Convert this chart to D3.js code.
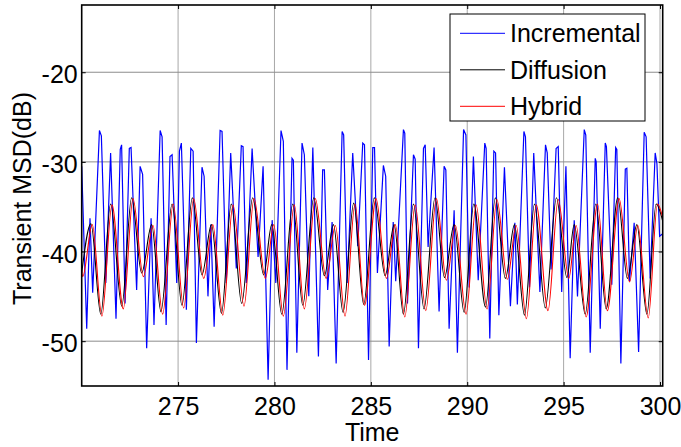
<html>
<head>
<meta charset="utf-8">
<style>
  body { margin: 0; background: #fff; }
  svg { display: block; font-family: "Liberation Sans", Arial, sans-serif; }
</style>
</head>
<body>
<svg id="chart" width="681" height="447"></svg>
<script src="https://d3js.org/d3.v7.min.js"></script>
<script>
// series names
let seriesNames = ["Incremental", "Diffusion", "Hybrid"]
let seriesColors = ["#0000ff", "#000000", "#ff0000"]

// Incremental (blue) : time / MSD
let incTime = [270.0, 270.26, 270.43, 270.57, 270.92, 271.02, 271.25, 271.50, 271.78, 272.0, 272.07, 272.25, 272.47, 272.56, 272.85,
  273.03, 273.16, 273.37, 273.6, 273.75, 274.07, 274.17, 274.38, 274.58, 274.69, 274.93, 275.07, 275.17, 275.43, 275.66, 275.78, 275.95,
  276.24, 276.35, 276.55, 276.70, 276.87, 277.18, 277.28, 277.5, 277.73, 278.02, 278.28, 278.37, 278.54, 278.84, 279.15, 279.41, 279.67,
  279.88, 280.07, 280.34, 280.46, 280.65, 280.91, 280.98, 281.16, 281.43, 281.55, 281.78, 281.99, 282.28, 282.50, 282.59, 282.76, 282.99,
  283.2, 283.51, 283.59, 283.77, 284.06, 284.32, 284.58, 284.67, 284.88, 285.1, 285.19, 285.34, 285.65, 285.77, 285.95, 286.16, 286.29,
  286.69, 286.76, 286.9, 287.21, 287.3, 287.47, 287.73, 287.82, 287.97, 288.28, 288.54, 288.8, 288.89, 289.06, 289.32, 289.49, 289.81,
  289.93, 290.1, 290.32, 290.57, 290.91, 290.98, 291.17, 291.38, 291.47, 291.64, 291.93, 292.24, 292.47, 292.6, 292.94, 293.02, 293.23,
  293.45, 293.77, 294.06, 294.15, 294.35, 294.61, 294.72, 294.9, 295.12, 295.34, 295.55, 295.72, 296.07, 296.15, 296.38, 296.64, 296.69,
  296.9, 297.16, 297.22, 297.5, 297.7, 297.76, 297.97, 298.2, 298.28, 298.42, 298.66, 298.89, 299.18, 299.28, 299.49, 299.75, 299.84,
  299.98, 300.14]
let incMSD = [-30.5, -48.6, -36.3, -44.6, -26.5, -27.1, -43.5, -29.0, -47.5, -28.6, -28.1, -45.8, -28.5, -28.4, -44.3,
  -30.5, -31.4, -50.8, -36.3, -48.2, -26.5, -27.2, -48.2, -29.4, -29.2, -43.5, -28.8, -27.9, -46.5, -28.5, -28.8, -50.2,
  -30.6, -31.6, -45.0, -37.0, -48.4, -26.5, -26.6, -43.5, -29.0, -41.9, -28.2, -28.3, -43.5, -28.5, -40.6, -30.5, -54.3,
  -36.5, -43.5, -26.5, -27.7, -53.2, -29.6, -29.8, -51.3, -27.9, -29.2, -45.0, -28.4, -51.7, -30.9, -30.9, -44.3, -36.7,
  -52.5, -26.6, -27.0, -43.5, -29.0, -39.4, -27.9, -28.1, -52.1, -28.4, -28.4, -42.4, -30.4, -31.6, -50.6, -36.7, -43.3,
  -26.4, -26.8, -45.8, -29.2, -29.7, -50.8, -28.5, -28.1, -39.5, -28.4, -46.7, -30.5, -30.9, -48.6, -35.4, -51.3, -26.4,
  -27.0, -44.0, -29.4, -43.2, -27.9, -28.5, -49.7, -28.8, -29.0, -47.1, -30.6, -46.1, -36.8, -45.9, -26.6, -27.2, -44.0,
  -29.0, -44.5, -28.1, -29.0, -42.0, -28.5, -28.3, -44.5, -30.5, -51.9, -36.5, -45.0, -26.4, -27.0, -51.3, -29.6, -30.0,
  -48.6, -27.9, -28.3, -43.7, -28.4, -28.6, -52.5, -30.8, -30.7, -43.3, -36.8, -51.2, -26.7, -27.2, -43.0, -29.0, -30.2,
  -38.3, -38.0]

// Diffusion (black) : peaks and troughs
let difTime = [270.0, 270.48, 270.99, 271.50, 272.08, 272.59, 273.11, 273.63, 274.11, 274.69, 275.20, 275.74, 276.24, 276.73, 277.25,
  277.76, 278.30, 278.87, 279.44, 279.86, 280.38, 280.95, 281.47, 282.04, 282.59, 283.06, 283.56, 284.11, 284.63, 285.18, 285.74,
  286.21, 286.69, 287.21, 287.76, 288.33, 288.82, 289.32, 289.84, 290.34, 290.95, 291.46, 291.98, 292.45, 292.97, 293.49, 294.05,
  294.63, 295.17, 295.55, 296.12, 296.67, 297.21, 297.81, 298.31, 298.80, 299.32, 299.80, 300.14]
let difMSD = [-42.4, -36.9, -47.0, -34.7, -46.1, -34.0, -42.4, -37.0, -46.7, -34.7, -46.0, -34.0, -42.6, -37.0, -46.9,
  -34.7, -45.8, -34.0, -42.6, -37.0, -47.0, -34.7, -46.0, -34.0, -42.7, -37.0, -46.8, -34.6, -45.9, -34.0, -42.7,
  -37.0, -47.0, -34.7, -46.4, -34.0, -42.9, -37.0, -46.8, -34.7, -46.2, -34.0, -43.0, -37.0, -47.1, -34.7, -46.3,
  -34.0, -42.9, -37.0, -47.0, -34.7, -46.4, -34.0, -43.0, -37.0, -47.0, -34.7, -36.6]

// Hybrid (red) : peaks and troughs
let hybTime = [270.0, 270.05, 270.55, 271.05, 271.57, 272.16, 272.66, 273.20, 273.70, 274.20, 274.75, 275.29, 275.81, 276.33, 276.80,
  277.32, 277.85, 278.42, 278.94, 279.53, 279.96, 280.46, 281.03, 281.55, 282.12, 282.68, 283.16, 283.66, 284.18, 284.67, 285.27,
  285.81, 286.27, 286.76, 287.30, 287.85, 288.40, 288.92, 289.39, 289.94, 290.46, 291.03, 291.54, 292.08, 292.54, 293.07, 293.58,
  294.19, 294.72, 295.27, 295.65, 296.17, 296.76, 297.27, 297.88, 298.42, 298.85, 299.39, 299.87, 300.14]
let hybMSD = [-42.0, -42.8, -37.0, -47.2, -34.8, -46.4, -34.1, -42.8, -37.1, -47.0, -34.7, -46.3, -34.1, -43.0, -37.0,
  -47.1, -34.8, -46.1, -34.1, -43.0, -37.0, -47.2, -34.8, -46.4, -34.1, -43.0, -37.1, -47.2, -34.7, -46.0, -34.1,
  -43.0, -37.0, -47.3, -34.8, -46.6, -34.1, -43.2, -37.1, -47.0, -34.8, -46.4, -34.2, -43.1, -37.1, -47.5, -34.8,
  -46.6, -34.2, -43.0, -37.1, -47.3, -34.7, -46.6, -34.1, -43.4, -37.1, -47.4, -34.7, -36.2]

// axes
let xTicks = [275, 280, 285, 290, 295, 300]
let yTicks = [-50, -40, -30, -20]
let yTickLabels = ["-50", "-40", "-30", "-20"]
let xDomain = [270, 300.14]
let yDomain = [-55, -12.5]

let svg = d3.select("#chart")
let pLeft = 81.7, pRight = 662.7, pTop = 5, pBottom = 386

let x = d3.scaleLinear().domain(xDomain).range([pLeft, pRight])
let y = d3.scaleLinear().domain(yDomain).range([pBottom, pTop])

// grid
let grid = svg.append("g")
grid.selectAll("line.gx").data(xTicks).enter().append("line")
  .attr("x1", d => x(d)).attr("x2", d => x(d))
  .attr("y1", pTop).attr("y2", pBottom)
  .attr("stroke", "#a8a8a8").attr("stroke-width", 1)
grid.selectAll("line.gy").data(yTicks).enter().append("line")
  .attr("x1", pLeft).attr("x2", pRight)
  .attr("y1", d => y(d)).attr("y2", d => y(d))
  .attr("stroke", "#8c8c8c").attr("stroke-width", 1)

// lines
svg.append("clipPath").attr("id", "clip").append("rect")
  .attr("x", pLeft).attr("y", pTop).attr("width", pRight - pLeft).attr("height", pBottom - pTop)

let plot = svg.append("g").attr("clip-path", "url(#clip)")

function pairs(ts, vs) { return ts.map((t, i) => [t, vs[i]]) }

let lineLinear = d3.line().x(d => x(d[0])).y(d => y(d[1]))
let lineSmooth = d3.line().x(d => x(d[0])).y(d => y(d[1])).curve(d3.curveMonotoneX)

plot.append("path").datum(pairs(incTime, incMSD))
  .attr("d", lineLinear).attr("fill", "none").attr("stroke", seriesColors[0]).attr("stroke-width", 1.2)
plot.append("path").datum(pairs(difTime, difMSD))
  .attr("d", lineSmooth).attr("fill", "none").attr("stroke", seriesColors[1]).attr("stroke-width", 1.1)
plot.append("path").datum(pairs(hybTime, hybMSD))
  .attr("d", lineSmooth).attr("fill", "none").attr("stroke", seriesColors[2]).attr("stroke-width", 1.1)

// axes (ticks pointing inward)
function styleAxis(g) {
  g.select(".domain").remove()
  g.selectAll("text").attr("font-size", 25).attr("font-family", "Liberation Sans, Arial, sans-serif").attr("fill", "#000")
  g.selectAll("line").attr("stroke", "#000")
}

svg.append("g").attr("transform", "translate(0," + pBottom + ")")
  .call(d3.axisBottom(x).tickValues(xTicks).tickSize(-4).tickPadding(11).tickFormat(d3.format("d")))
  .call(styleAxis)
svg.append("g").attr("transform", "translate(0," + pTop + ")")
  .call(d3.axisTop(x).tickValues(xTicks).tickSize(-4).tickFormat(""))
  .call(styleAxis)
svg.append("g").attr("transform", "translate(" + pLeft + ",0)")
  .call(d3.axisLeft(y).tickValues(yTicks).tickSize(-4).tickPadding(4).tickFormat((d, i) => yTickLabels[i]))
  .call(styleAxis)
  .selectAll("text").attr("dy", "0.42em")
svg.append("g").attr("transform", "translate(" + pRight + ",0)")
  .call(d3.axisRight(y).tickValues(yTicks).tickSize(-4).tickFormat(""))
  .call(styleAxis)

// frame
svg.append("rect").attr("x", pLeft).attr("y", pTop).attr("width", pRight - pLeft).attr("height", pBottom - pTop)
  .attr("fill", "none").attr("stroke", "#000").attr("stroke-width", 1.6)

// axis titles
svg.append("text").attr("x", (pLeft + pRight) / 2).attr("y", 441).attr("text-anchor", "middle")
  .attr("font-size", 25).text("Time")
svg.append("text").attr("transform", "translate(31," + ((pTop + pBottom) / 2 + 3) + ") rotate(-90)")
  .attr("text-anchor", "middle").attr("font-size", 25).text("Transient MSD(dB)")

// legend
let legend = svg.append("g")
legend.append("rect").attr("x", 450).attr("y", 14).attr("width", 195).attr("height", 107)
  .attr("fill", "#fff").attr("stroke", "#000").attr("stroke-width", 1)
let rows = legend.selectAll("g.row").data(seriesNames).enter().append("g")
  .attr("transform", (d, i) => "translate(0," + (33.3 + i * 36.5) + ")")
rows.append("line").attr("x1", 460).attr("x2", 505).attr("y1", 0).attr("y2", 0)
  .attr("stroke", (d, i) => seriesColors[i]).attr("stroke-width", 1)
rows.append("text").attr("x", 510).attr("y", 9).attr("font-size", 25).text(d => d)
</script>
</body>
</html>
